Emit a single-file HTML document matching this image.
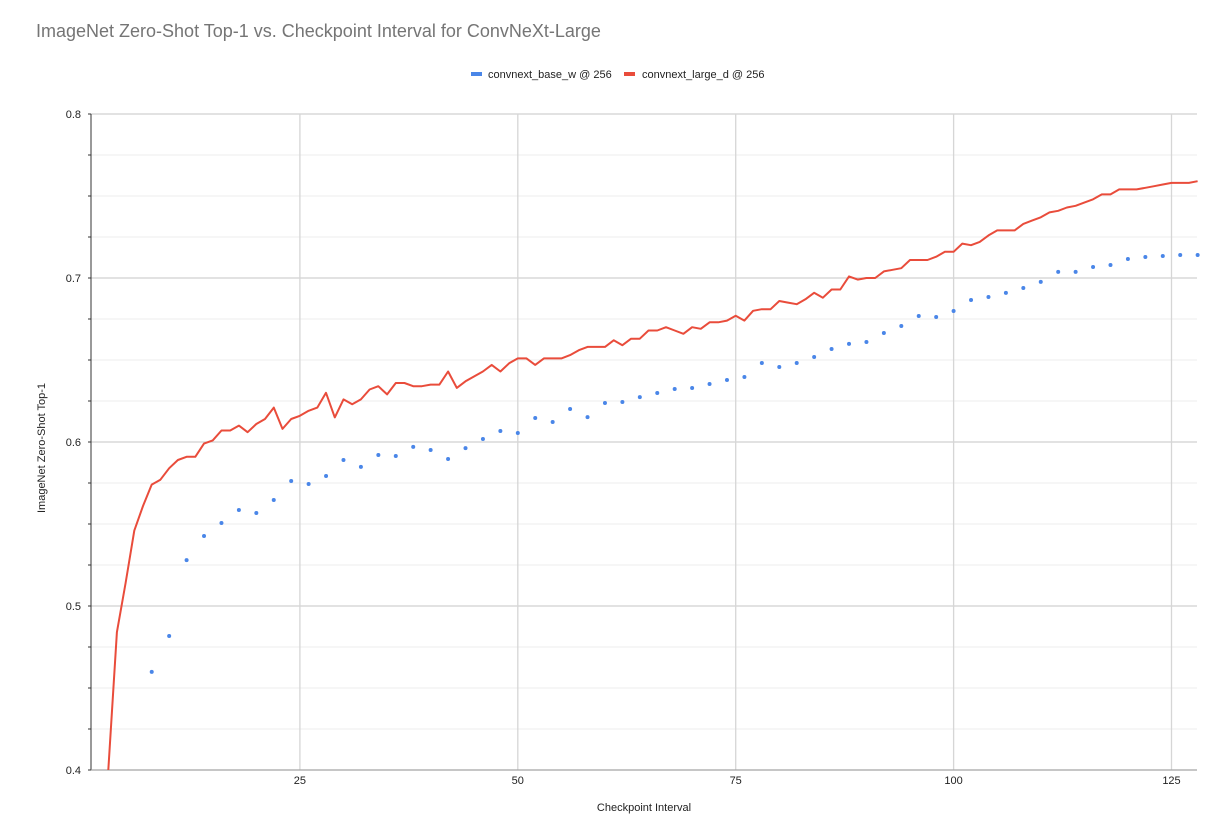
<!DOCTYPE html>
<html><head><meta charset="utf-8"><style>
body{margin:0;background:#fff;font-family:"Liberation Sans",Arial,sans-serif}
</style></head><body>
<svg id="chart" width="1228" height="835" xmlns="http://www.w3.org/2000/svg" font-family="Liberation Sans, Arial, sans-serif">
<text x="36" y="37" font-size="18" fill="#757575">ImageNet Zero-Shot Top-1 vs. Checkpoint Interval for ConvNeXt-Large</text>
<g font-size="11" fill="#222">
<g><rect x="471" y="72" width="11" height="4" fill="#4a86e8"/><text x="488" y="78">convnext_base_w @ 256</text></g>
<g><rect x="624" y="72" width="11" height="4" fill="#e94c3b"/><text x="642" y="78">convnext_large_d @ 256</text></g>
</g>
<g id="grid"></g><g id="axes"></g><g id="series"></g>
<text transform="translate(45,448) rotate(-90)" text-anchor="middle" font-size="11" fill="#222">ImageNet Zero-Shot Top-1</text>
<text x="644" y="811" text-anchor="middle" font-size="11" fill="#222">Checkpoint Interval</text>
</svg>
<script>
const baseX=[8,10,12,14,16,18,20,22,24,26,28,30,32,34,36,38,40,42,44,46,48,50,52,54,56,58,60,62,64,66,68,70,72,74,76,78,80,82,84,86,88,90,92,94,96,98,100,102,104,106,108,110,112,114,116,118,120,122,124,126,128];
const baseY=[0.4598,0.4817,0.528,0.5427,0.5506,0.5585,0.5567,0.5646,0.5762,0.5744,0.5793,0.589,0.5848,0.5921,0.5915,0.597,0.5951,0.5896,0.5963,0.6018,0.6067,0.6055,0.6146,0.6122,0.6201,0.6152,0.6238,0.6244,0.6274,0.6299,0.6323,0.6329,0.6354,0.6378,0.6396,0.6482,0.6457,0.6482,0.6518,0.6567,0.6598,0.661,0.6665,0.6707,0.6768,0.6762,0.6799,0.6866,0.6884,0.6909,0.6939,0.6976,0.7037,0.7037,0.7067,0.7079,0.7116,0.7128,0.7134,0.714,0.714];
const largeStart=3;
const largeY=[0.398,0.484,0.514,0.546,0.561,0.574,0.577,0.584,0.589,0.591,0.591,0.599,0.601,0.607,0.607,0.610,0.606,0.611,0.614,0.621,0.608,0.614,0.616,0.619,0.621,0.630,0.615,0.626,0.623,0.626,0.632,0.634,0.629,0.636,0.636,0.634,0.634,0.635,0.635,0.643,0.633,0.637,0.640,0.643,0.647,0.643,0.648,0.651,0.651,0.647,0.651,0.651,0.651,0.653,0.656,0.658,0.658,0.658,0.662,0.659,0.663,0.663,0.668,0.668,0.670,0.668,0.666,0.670,0.669,0.673,0.673,0.674,0.677,0.674,0.680,0.681,0.681,0.686,0.685,0.684,0.687,0.691,0.688,0.693,0.693,0.701,0.699,0.700,0.700,0.704,0.705,0.706,0.711,0.711,0.711,0.713,0.716,0.716,0.721,0.720,0.722,0.726,0.729,0.729,0.729,0.733,0.735,0.737,0.740,0.741,0.743,0.744,0.746,0.748,0.751,0.751,0.754,0.754,0.754,0.755,0.756,0.757,0.758,0.758,0.758,0.759];
const xTicks=[25,50,75,100,125];
const yTicks=[0.4,0.5,0.6,0.7,0.8];
const NS="http://www.w3.org/2000/svg";
const L=91,R=1197,T=114,B=770;
const sx=v=>82+v*8.716, sy=v=>B-(v-0.4)/0.4*(B-T);
function mk(tag,attrs,parent){const e=document.createElementNS(NS,tag);for(const k in attrs)e.setAttribute(k,attrs[k]);document.getElementById(parent).appendChild(e);return e;}
for(let i=0;i<=16;i++){const v=0.4+i*0.025,y=sy(v),major=i%4===0;
 const g=mk('line',{x1:L,x2:R,y1:y,y2:y,stroke:major?'#d0d0d0':'#ececec','stroke-width':major?1.3:1},'grid');
 
 
 const t=mk('line',{x1:L-3,x2:L,y1:y,y2:y,stroke:'#333'},'axes');
 
 }
yTicks.forEach(v=>{const t=mk('text',{x:81,y:sy(v)+4,'text-anchor':'end','font-size':11,fill:'#222'},'axes');t.textContent=v.toFixed(1);
 
 });
xTicks.forEach(v=>{const x=sx(v);const g=mk('line',{x1:x,x2:x,y1:T,y2:B,stroke:'#d6d6d6','stroke-width':1.3},'grid');
 
 
 const t=mk('text',{x:x,y:784,'text-anchor':'middle','font-size':11,fill:'#222'},'axes');t.textContent=v;
 
 });
const ax=mk('line',{x1:L,x2:L,y1:T,y2:B,stroke:'#333'},'axes');


const bx=mk('line',{x1:L,x2:R,y1:B,y2:B,stroke:'#999'},'axes');


const cp=mk('clipPath',{id:'clip'},'series');mk('rect',{x:L,y:T-5,width:R-L+2,height:B-T+5},'series');cp.appendChild(document.getElementById('series').lastChild);
const pts=largeY.map((v,i)=>sx(largeStart+i).toFixed(1)+','+sy(v).toFixed(1)).join(' ');
const pl=mk('polyline',{points:pts,fill:'none',stroke:'#e94c3b','stroke-width':2,'stroke-linejoin':'round','clip-path':'url(#clip)'},'series');


baseX.forEach((x,i)=>{const c=mk('circle',{cx:sx(x),cy:sy(baseY[i]),r:2,fill:'#4a86e8'},'series');
 
 });
</script>
</body></html>
